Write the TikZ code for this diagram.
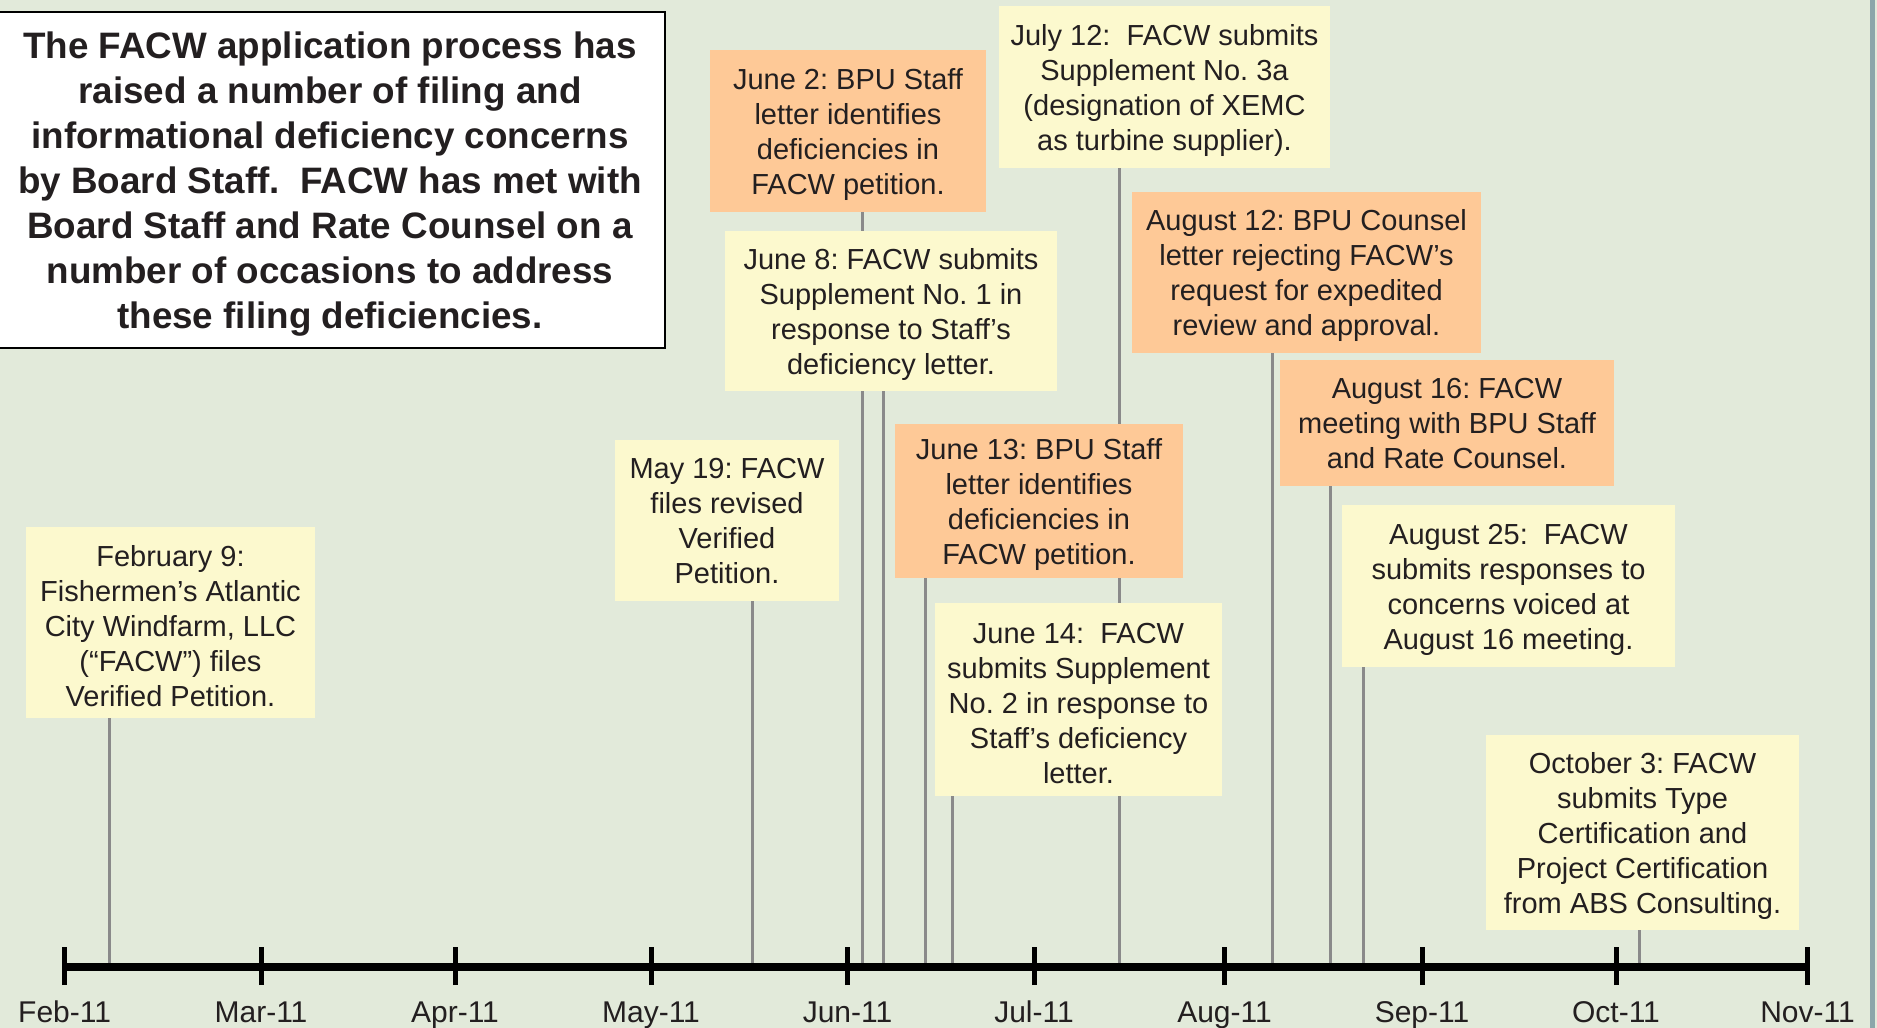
\documentclass[tikz,border=0pt]{standalone}
\usepackage{fontspec}
\setmainfont{Liberation Sans}
\frenchspacing
\definecolor{bgc}{HTML}{E2EADA}
\definecolor{ylw}{HTML}{FCF9CE}
\definecolor{org}{HTML}{FEC997}
\definecolor{stemc}{HTML}{8A8A8A}
\definecolor{txt}{HTML}{231F20}
\definecolor{edgec}{HTML}{8BA6AA}
\newcommand{\tstrut}{\rule{0pt}{27.5pt}}
\newcommand{\hstrut}{\rule{0pt}{34pt}}
\newcommand{\dstrut}{\rule[-6pt]{0pt}{6pt}}
\pgfdeclarelayer{bg}
\pgfsetlayers{bg,main}
\tikzset{
  evt/.style={inner sep=0pt, align=center, text=txt, font=\fontsize{29}{35}\selectfont},
  ybox/.style={evt, fill=ylw},
  obox/.style={evt, fill=org},
  stem/.style={draw=stemc, line width=3pt},
  axisline/.style={line width=8pt, black},
  tick/.style={line width=5pt, black},
  monthlbl/.style={text=txt, font=\fontsize{30}{34}\selectfont, inner sep=0pt},
  titlebox/.style={draw=black, line width=2.5pt, fill=white, inner sep=0pt, align=center,
     text=txt, font=\fontsize{36.8}{45}\selectfont\bfseries}
}
\begin{document}
\begin{tikzpicture}[x=1pt,y=-1pt]
\useasboundingbox (0,0) rectangle (1877,1028);
% title
\node[titlebox, minimum width=670, minimum height=336] (title) at (330,180)
 {\hstrut The FACW application process has\\raised a number of filing and\\informational deficiency concerns\\by Board Staff.~~FACW has met with\\Board Staff and Rate Counsel on a\\number of occasions to address\\these filing deficiencies.};
% event boxes
\node[ybox, minimum width=289, minimum height=191] (feb9) at (170.5,622.5)
 {\tstrut February 9:\\Fishermen’s Atlantic\\City Windfarm, LLC\\(“FACW”) files\\Verified Petition.};
\node[ybox, minimum width=224, minimum height=161] (may19) at (727,520.5)
 {\tstrut May 19: FACW\\files revised\\Verified\\Petition.\dstrut};
\node[obox, minimum width=276, minimum height=162] (jun2) at (848,131)
 {\tstrut June 2: BPU Staff\\letter identifies\\deficiencies in\\FACW petition.};
\node[ybox, minimum width=332, minimum height=160] (jun8) at (891,311)
 {\tstrut June 8: FACW submits\\Supplement No. 1 in\\response to Staff’s\\deficiency letter.};
\node[ybox, minimum width=331, minimum height=162] (jul12) at (1164.5,87)
 {\tstrut July 12:~~FACW submits\\Supplement No. 3a\\(designation of XEMC\\as turbine supplier).};
\node[obox, minimum width=288, minimum height=154] (jun13) at (1039,501)
 {\tstrut June 13: BPU Staff\\letter identifies\\deficiencies in\\FACW petition.};
\node[ybox, minimum width=287, minimum height=193] (jun14) at (1078.5,699.5)
 {\tstrut June 14:~~FACW\\submits Supplement\\No. 2 in response to\\Staff’s deficiency\\letter.};
\node[obox, minimum width=349, minimum height=161] (aug12) at (1306.5,272.5)
 {\tstrut August 12: BPU Counsel\\letter rejecting FACW’s\\request for expedited\\review and approval.};
\node[obox, minimum width=334, minimum height=126] (aug16) at (1447,423)
 {\tstrut August 16: FACW\\meeting with BPU Staff\\and Rate Counsel.\dstrut};
\node[ybox, minimum width=333, minimum height=162] (aug25) at (1508.5,586)
 {\tstrut August 25:~~FACW\\submits responses to\\concerns voiced at\\August 16 meeting.};
\node[ybox, minimum width=313, minimum height=195] (oct3) at (1642.5,832.5)
 {\tstrut October 3: FACW\\submits Type\\Certification and\\Project Certification\\from ABS Consulting.};
% axis points
\coordinate (s1) at (109,967);
\coordinate (s2) at (752,967);
\coordinate (s3) at (862,967);
\coordinate (s4) at (883,967);
\coordinate (s5) at (1119,967);
\coordinate (s6) at (925,967);
\coordinate (s7) at (952,967);
\coordinate (s8) at (1272,967);
\coordinate (s9) at (1330,967);
\coordinate (s10) at (1363,967);
\coordinate (s11) at (1639,967);
\begin{pgfonlayer}{bg}
\fill[bgc] (0,0) rectangle (1877,1028);
\draw[edgec, line width=5pt] (1872,0) -- (1872,1028);
\draw[stem] (s1 |- feb9.south) -- (s1);
\draw[stem] (s2 |- may19.south) -- (s2);
\draw[stem] (s3 |- jun2.south) -- (s3);
\draw[stem] (s4 |- jun8.south) -- (s4);
\draw[stem] (s5 |- jul12.south) -- (s5);
\draw[stem] (s6 |- jun13.south) -- (s6);
\draw[stem] (s7 |- jun14.south) -- (s7);
\draw[stem] (s8 |- aug12.south) -- (s8);
\draw[stem] (s9 |- aug16.south) -- (s9);
\draw[stem] (s10 |- aug25.south) -- (s10);
\draw[stem] (s11 |- oct3.south) -- (s11);
\end{pgfonlayer}
% axis
\coordinate (mFeb) at (64.6,967);
\coordinate (mMar) at (261,967);
\coordinate (mApr) at (455,967);
\coordinate (mMay) at (651,967);
\coordinate (mJun) at (847.5,967);
\coordinate (mJul) at (1034,967);
\coordinate (mAug) at (1224.5,967);
\coordinate (mSep) at (1422,967);
\coordinate (mOct) at (1616,967);
\coordinate (mNov) at (1807.5,967);
\draw[axisline] (mFeb) -- (mNov);
\foreach \m/\l in {Feb/Feb-11,Mar/Mar-11,Apr/Apr-11,May/May-11,Jun/Jun-11,Jul/Jul-11,Aug/Aug-11,Sep/Sep-11,Oct/Oct-11,Nov/Nov-11}{
  \draw[tick] ([yshift=-18pt]m\m) -- ([yshift=20pt]m\m);
  \node[monthlbl, anchor=base] (l\m) at ([yshift=-55pt]m\m) {\l};
}
\end{tikzpicture}
\end{document}
